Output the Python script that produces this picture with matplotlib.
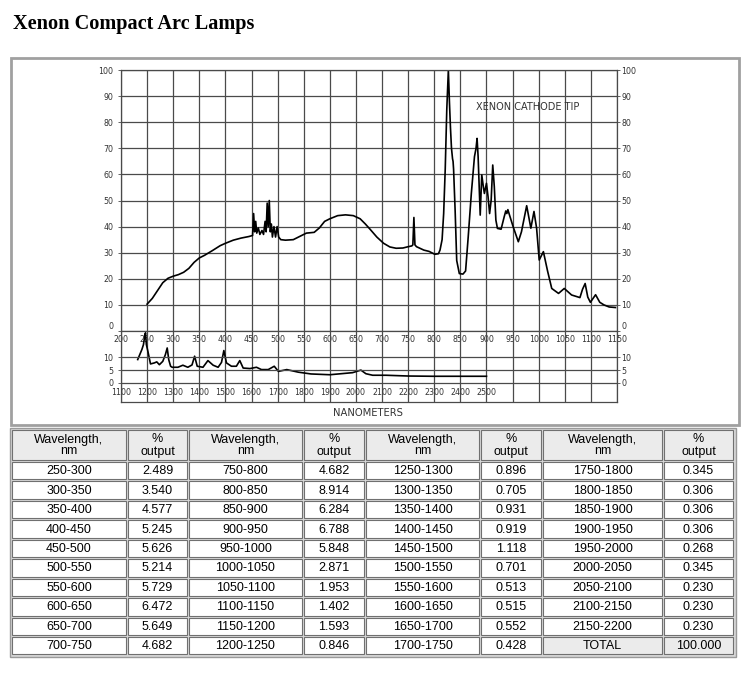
import matplotlib
matplotlib.use("Agg")
import matplotlib.pyplot as plt
from matplotlib.patches import Rectangle

# ---------------- data ----------------
vis_nm = [250, 260, 270, 280, 290, 300, 310, 320, 330, 340, 350, 360, 375, 390, 400, 415, 430, 445,
          452, 454, 456, 458, 460, 463, 466, 470, 473, 476, 478, 480, 482, 484, 486, 488, 490, 493,
          496, 499, 502, 506, 515, 530, 545, 555, 570, 580, 590, 600, 615, 630, 645, 658, 668, 677,
          690, 703, 715, 727, 740, 750, 757, 759, 761, 763, 766, 780, 790, 801, 808, 811, 815, 818,
          821, 824, 827, 829, 831, 833, 835, 836, 837, 840, 843, 848, 855, 860, 865, 871, 877, 880,
          882, 884, 888, 891, 894, 896, 900, 903, 906, 909, 912, 915, 918, 921, 928, 934, 937, 939,
          941, 944, 951, 961, 967, 977, 985, 991, 996, 1001, 1009, 1017, 1025, 1038, 1049, 1063,
          1079, 1084, 1089, 1094, 1099, 1109, 1117, 1125, 1135, 1147]
vis_val = [10.3, 12.5, 15.5, 18.5, 20.2, 21.0, 21.6, 22.5, 24.0, 26.3, 28.0, 29.0, 30.8, 32.7, 33.6,
           34.8, 35.6, 36.2, 36.6, 45, 38, 42, 37.5, 39.5, 37, 38.5, 37, 42, 38, 49, 40, 50, 38, 41,
           36, 40, 36, 40, 36, 35, 34.8, 35, 36.5, 37.5, 37.8, 39.5, 42, 43, 44.2, 44.5, 44.2, 43,
           41, 39, 36, 33.6, 32.2, 31.7, 31.8, 32.3, 32.6, 33, 43.5, 33, 32.3, 31, 30.5, 29.4, 29.6,
           31, 35, 45, 62, 85, 100, 88, 78, 70, 66, 65, 62, 46, 27, 22, 21.8, 23, 36, 52.7, 66.8, 70,
           73.8, 66.8, 44.4, 59.8, 55.3, 52.7, 56.6, 51.5, 45, 50.2, 63.6, 55.3, 42.5, 39.3, 39,
           43.8, 46, 45, 46.5, 44.5, 40, 34.2, 38, 48, 39.4, 45.8, 39.4, 27.2, 30.4, 23, 16.3, 14.4,
           16.3, 13.8, 12.8, 16, 18.2, 13, 11, 13.9, 11, 10, 9.2, 9.0]

ir_nm = [1164, 1180, 1186, 1192, 1194, 1197, 1203, 1213, 1228, 1237, 1247, 1260, 1270, 1277, 1283,
         1290, 1296, 1318, 1337, 1356, 1372, 1382, 1392, 1414, 1433, 1453, 1472, 1485, 1494, 1504,
         1523, 1542, 1555, 1568, 1594, 1619, 1638, 1664, 1687, 1703, 1735, 1779, 1828, 1900, 1987,
         2019, 2038, 2064, 2115, 2200, 2295, 2400, 2500]
ir_val = [9.1, 13, 14.9, 19, 19.5, 15, 12.3, 7.4, 7.8, 8.2, 7.1, 8.4, 11, 13.6, 9, 6.5, 6.1, 6.1,
          6.9, 6.1, 7, 10.4, 6.5, 6.1, 8.7, 6.9, 6.1, 8, 12.6, 7.8, 6.5, 6.5, 8.7, 5.8, 5.6, 6.1,
          5.2, 5.2, 6.5, 4.5, 5.2, 4.2, 3.5, 3.2, 4.0, 5.0, 3.6, 3.0, 3.0, 2.7, 2.6, 2.6, 2.6]

vis_ticks = list(range(200, 1151, 50))
ir_ticks = list(range(1100, 2501, 100))
vis_yticks = list(range(0, 101, 10))
ir_yticks = [0, 5, 10]

wl_col1 = ["250-300", "300-350", "350-400", "400-450", "450-500", "500-550", "550-600", "600-650", "650-700", "700-750"]
out_col1 = ["2.489", "3.540", "4.577", "5.245", "5.626", "5.214", "5.729", "6.472", "5.649", "4.682"]
wl_col2 = ["750-800", "800-850", "850-900", "900-950", "950-1000", "1000-1050", "1050-1100", "1100-1150", "1150-1200", "1200-1250"]
out_col2 = ["4.682", "8.914", "6.284", "6.788", "5.848", "2.871", "1.953", "1.402", "1.593", "0.846"]
wl_col3 = ["1250-1300", "1300-1350", "1350-1400", "1400-1450", "1450-1500", "1500-1550", "1550-1600", "1600-1650", "1650-1700", "1700-1750"]
out_col3 = ["0.896", "0.705", "0.931", "0.919", "1.118", "0.701", "0.513", "0.515", "0.552", "0.428"]
wl_col4 = ["1750-1800", "1800-1850", "1850-1900", "1900-1950", "1950-2000", "2000-2050", "2050-2100", "2100-2150", "2150-2200", "TOTAL"]
out_col4 = ["0.345", "0.306", "0.306", "0.306", "0.268", "0.345", "0.230", "0.230", "0.230", "100.000"]

# ---------------- figure ----------------
W, H = 750, 674
fig = plt.figure(figsize=(W / 100, H / 100), dpi=100)
fig.patch.set_facecolor("white")

def fbox(x0, y0, x1, y1):
    return [x0 / W, 1 - y1 / H, (x1 - x0) / W, (y1 - y0) / H]

# overlay axes in pixel coordinates
ov = fig.add_axes([0, 0, 1, 1])
ov.set_xlim(0, W)
ov.set_ylim(H, 0)
ov.axis("off")

ov.text(13, 24.5, "Xenon Compact Arc Lamps", family="Liberation Serif", weight="bold",
        fontsize=14.6, va="center", ha="left", color="black")

# chart frame
ov.add_patch(Rectangle((11, 58), 728, 367, facecolor="white", edgecolor="#a0a0a0", lw=2))

GRID = "#4a4a4a"
TXT = "#333333"
FS = 5.7

def right_labels(axis, ticks, lim, first_bottom):
    tw = axis.twinx()
    tw.set_ylim(*lim)
    tw.set_yticks(ticks)
    tw.tick_params(axis="y", length=2, width=0.6, color=GRID, pad=1, labelsize=FS, labelcolor=TXT)
    for s in tw.spines.values():
        s.set_visible(False)
    if first_bottom:
        tw.yaxis.get_major_ticks()[0].label2.set_verticalalignment("bottom")
    return tw

# ---- top (visible) axes ----
ax = fig.add_axes(fbox(121, 70, 617, 331))
ax.plot(vis_nm, vis_val, color="black", lw=1.2)
ax.set_xlim(200, 1150)
ax.set_ylim(0, 100)
ax.set_xticks(vis_ticks)
ax.set_yticks(vis_yticks)
ax.grid(True, color=GRID, lw=0.9)
ax.tick_params(axis="x", length=0, pad=2.6, labelsize=FS, labelcolor=TXT)
ax.tick_params(axis="y", length=2, width=0.6, color=GRID, pad=3.5, labelsize=FS, labelcolor=TXT)
ax.yaxis.get_major_ticks()[0].label1.set_verticalalignment("bottom")
for s in ax.spines.values():
    s.set_color(GRID)
    s.set_linewidth(0.9)
ax.text(978, 86, "XENON CATHODE TIP", fontsize=7.0, color=TXT, ha="center", va="center")
ax.set_facecolor("none")
right_labels(ax, vis_yticks, (0, 100), True)

# ---- lower (infrared) axes ----
bx = fig.add_axes(fbox(121, 331, 617, 402))
bx.plot(ir_nm, ir_val, color="black", lw=1.2)
bx.set_xlim(1100, 3000)
bx.set_ylim(-7.4, 20.2)
bx.set_xticks(list(range(1100, 3001, 100)))
bx.set_xticklabels([])
bx.set_yticks(ir_yticks)
bx.xaxis.grid(True, color=GRID, lw=0.9)
for yv in ir_yticks:
    bx.axhline(yv, color=GRID, lw=0.9)
bx.tick_params(axis="x", length=0)
bx.tick_params(axis="y", length=2, width=0.6, color=GRID, pad=3.5, labelsize=FS, labelcolor=TXT)
bx.spines["top"].set_visible(False)
for s in ["left", "right", "bottom"]:
    bx.spines[s].set_color(GRID)
    bx.spines[s].set_linewidth(0.9)
for t in ir_ticks:
    bx.text(t, -3.6, str(t), fontsize=FS, color=TXT, ha="center", va="center")
bx.set_facecolor("none")
right_labels(bx, ir_yticks, (-7.4, 20.2), False)
ov.text(368, 413, "NANOMETERS", fontsize=7.2, color=TXT, ha="center", va="center")

# ---------------- table ----------------
col_edges = [11, 127, 188, 303, 365, 480, 542, 663, 734]
header_top, header_bot = 429, 461
row_h = 19.44
nrows = 10
tab_bot = header_bot + nrows * row_h
ov.add_patch(Rectangle((col_edges[0] - 1, header_top - 1), col_edges[-1] - col_edges[0] + 3,
                       tab_bot - header_top + 3, facecolor="#d8d8d8", edgecolor="#9a9a9a", lw=1))

headers = ["Wavelength,\nnm", "%\noutput"] * 4
columns = [wl_col1, out_col1, wl_col2, out_col2, wl_col3, out_col3, wl_col4, out_col4]
EDGE = "#707070"
for c in range(8):
    x0, x1 = col_edges[c], col_edges[c + 1]
    ov.add_patch(Rectangle((x0 + 1, header_top + 1), x1 - x0 - 2, header_bot - header_top - 2,
                           facecolor="#ebebeb", edgecolor=EDGE, lw=0.8))
    ov.text((x0 + x1) / 2, (header_top + header_bot) / 2 + 0.5, headers[c], family="Liberation Sans",
            fontsize=9, ha="center", va="center", linespacing=1.0, color="black")
    for r in range(nrows):
        y0 = header_bot + r * row_h
        txt = columns[c][r]
        face = "#ebebeb" if (c >= 6 and r == nrows - 1) else "white"
        ov.add_patch(Rectangle((x0 + 1, y0 + 1), x1 - x0 - 2, row_h - 2,
                               facecolor=face, edgecolor=EDGE, lw=0.8))
        ov.text((x0 + x1) / 2, y0 + row_h / 2 + 0.5, txt, family="Liberation Sans",
                fontsize=9, ha="center", va="center", color="black")

fig.savefig("out.png", dpi=100)
